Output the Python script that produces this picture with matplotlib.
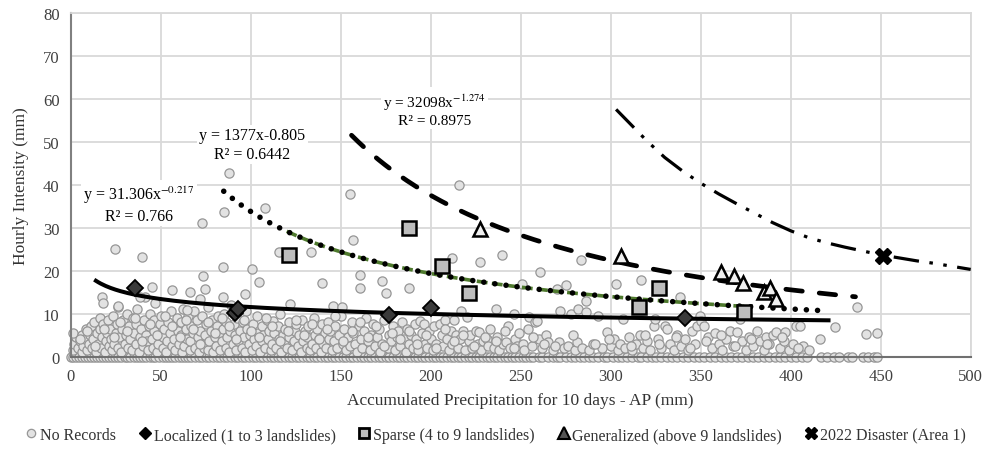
import numpy as np
import matplotlib.pyplot as plt
from matplotlib.lines import Line2D

plt.rcParams['font.family'] = ['Liberation Serif', 'DejaVu Serif']
plt.rcParams['mathtext.fontset'] = 'stix'

# ---- No Records (gray circles) ----
# points sitting on the x axis (intensity = 0)
nr_zero_x = [0, 1.5, 3, 4.5, 6, 8, 9.5, 11, 13, 14.5, 16, 18, 19.5, 21, 23, 24.5, 26, 28,
             30, 31.5, 33, 35, 37, 38.5, 40, 42, 44, 45.5, 47, 49, 51, 53, 54.5, 56, 58,
             60, 62, 63.5, 65, 67, 69, 71, 73, 75, 77, 79, 81, 83, 85, 87, 89, 91, 93,
             95, 97, 99, 101, 103, 105, 107, 109, 111, 113, 115, 117, 119, 121, 123, 125,
             127, 129, 131, 133, 135, 137, 139, 141, 143, 145, 147, 149, 151, 153, 155,
             157, 159, 161, 163, 165, 167, 169, 171, 173, 175, 177, 179, 181, 183, 185,
             187, 189, 191, 193, 195, 197, 199, 201, 203, 205, 207, 209, 211, 213, 215,
             217, 219, 221, 223, 225, 227, 229, 231, 233, 235, 237, 239, 241, 243, 245,
             247, 249, 251, 253, 255, 257, 260, 262, 265, 268, 270, 272, 275, 278, 280,
             283, 285, 288, 290, 293, 296, 298, 301, 304, 306, 309, 312, 315, 317, 320,
             323, 325, 328, 331, 334, 337, 340, 343, 346, 349, 352, 355, 358, 361, 364,
             367, 370, 373, 376, 379, 382, 385, 388, 391, 394, 397, 400, 403, 406, 409,
             417, 420, 424, 427, 432, 434, 440, 443, 446, 448]

# points above the axis
nr_x = [1, 2, 3, 1.5, 4, 5, 6, 6.5, 7, 8, 8.5, 9, 10, 10.5, 11, 12, 12.5, 13, 14, 14.5,
        15, 16, 16.5, 17, 17.5, 18, 19, 19.5, 20, 20.5,
        21, 22, 22.5, 23, 23.5, 24, 25, 25.5, 26, 26.5, 27, 28, 28.5, 29, 30, 30.5, 31,
        32, 32.5, 33, 34, 34.5, 35, 36, 36.5, 37, 38, 38.5, 39, 40, 40.5, 41, 42, 42.5,
        43, 43.5, 44, 45, 45.5, 46, 46.5, 47, 48, 48.5, 49, 49.5,
        50, 51, 51.5, 52, 53, 53.5, 54, 55, 55.5, 56, 57, 57.5, 58, 59, 59.5, 60, 61,
        61.5, 62, 62.5, 63, 64, 64.5, 65, 66, 66.5, 67, 68, 68.5, 69, 70, 70.5, 71, 72,
        72.5, 73, 74, 74.5, 75, 76, 76.5, 77, 78, 78.5, 79, 80, 80.5, 81, 82, 82.5, 83,
        84, 84.5, 85, 86, 86.5, 87, 88, 88.5, 89, 90, 90.5, 91, 92, 92.5, 93, 94, 95,
        95.5, 96, 97, 97.5, 98, 99, 99.5,
        100.5, 101, 102, 103, 103.5, 104, 105, 106, 106.5, 107, 108, 109, 109.5, 110,
        111, 112, 112.5, 113, 114, 115, 115.5, 116, 117, 118, 118.5, 119, 120, 121,
        121.5, 122, 123, 124, 124.5, 125, 126, 127, 128, 128.5, 129, 130, 131, 131.5,
        132, 133, 134, 135, 135.5, 136, 137, 138, 139, 139.5, 140, 141, 142, 143, 143.5,
        144, 145, 145.5, 146, 147, 148, 149, 150, 150.5, 151, 152, 153, 154, 155, 156,
        157, 158, 159, 160, 161, 162, 163, 164, 165, 166, 167, 168, 169, 170, 171, 172,
        173, 174,
        176, 177, 178, 179, 180, 181, 182, 183, 184, 185, 186, 187, 188, 189, 190, 191,
        192, 193, 194, 195, 196, 197, 198, 199, 200, 201, 202, 203, 205, 206, 207, 208,
        209, 210, 211, 212, 213, 214, 215, 216, 217, 218, 219, 220, 221, 222, 223, 225,
        226, 227, 228, 229, 231, 232, 233, 235, 236, 237, 238, 240, 242, 243, 244, 246,
        247, 248, 249,
        251, 252, 254, 254.5, 256, 258, 259, 260, 262, 264, 265, 268, 271, 272, 274, 276,
        278, 280, 281, 282, 284, 286, 288, 290, 293, 295, 297.8, 300, 302, 304, 305, 307,
        308, 310, 312, 314, 316, 318, 320,
        322, 324, 324.6, 326, 328, 330, 331.5, 333, 335, 337, 339, 341, 343, 345, 347,
        348, 349.6, 350, 352, 354, 356, 358, 360, 362, 364, 366, 368, 370, 371.8, 373,
        375, 377, 379, 381, 383, 385, 386, 388, 390, 392, 394, 396, 397, 399, 401, 403,
        405, 407, 410, 416, 424.6, 442, 447.8,
        # extra fill of the dense band
        5, 9, 13.5, 18.5, 24, 27.5, 31.5, 35.5, 39.5, 44, 48, 52.5, 56.5, 60.5, 64, 68,
        72, 76, 80, 84, 88, 92, 96, 100, 104.5, 108.5, 112, 116.5, 120.5, 125, 129.5,
        134, 138, 142.5, 147, 151.5, 156, 160.5, 165, 169.5, 174, 178.5, 183, 188, 192.5,
        197.5, 203, 208, 213, 218, 224, 230, 236, 241, 246, 257, 263, 269, 279, 291, 299,
        311, 319, 327, 336, 344, 353, 361, 369, 378, 387, 395, 404,
        # scattered points above the band
        88.1, 155.4, 215.6, 108, 85, 73.2, 156.8, 24.6, 39.4, 115.8, 133.7, 211.7, 227.4,
        239.6, 283.4, 84.8, 100.6, 160.7, 260.7, 104.8, 73.3, 172.8, 139.4, 250.5, 275,
        302.7, 317.1, 160.7, 188.1, 175.2, 270, 286, 338.6, 436.6, 17.2, 17.8, 45, 56.1,
        66.3, 74.6, 71.8, 84.8, 96.8, 26.4, 38.5, 64.4]
nr_y = [1.5, 3, 4.5, 5.5, 2, 3.5, 1, 5, 2.5, 4, 6.5, 1.5, 3, 5, 7, 2, 4, 8, 1, 5.5,
        3, 6.5, 9, 2, 4.5, 7.5, 1, 3.5, 5.5, 8.5,
        2.5, 6.5, 4, 1.5, 9.5, 3, 5.5, 7.5, 2, 11.5, 4.5, 1, 6.5, 8.5, 3, 5, 10,
        2, 7, 4, 1.5, 9, 5.5, 3, 7.5, 11, 1, 4.5, 6.5, 2.5, 8.5, 13.8, 5, 3.5,
        1.5, 7, 10, 4, 2, 6, 8.5, 12.5, 1, 3, 5, 7.5,
        9.5, 2, 4.5, 6.5, 1, 3.5, 8, 5.5, 10.5, 2.5, 7, 4, 1.5, 9, 6, 3, 5,
        8, 1, 11, 2.5, 6.5, 4, 9.5, 1.5, 3.5, 7, 5.5, 10.5, 2, 8.5, 4.5, 1, 6,
        3, 9.5, 2, 5, 7.5, 1.5, 11.5, 3.5, 6, 8.5, 1, 4.5, 2.5, 7, 9.5, 5.5, 1.5,
        3.5, 6.5, 10, 2, 8, 4.5, 1, 6, 12, 3, 7.5, 5, 1.5, 9, 3.5, 6, 2,
        8, 4.5, 1, 10.5, 6.5, 3, 5,
        1.5, 7.5, 4, 2.5, 9.5, 5.5, 1, 3.5, 7, 5, 2, 8.5, 4, 6,
        1.5, 3, 8.3, 5.5, 2, 7, 4, 9.9, 1, 5, 3, 6.5, 2, 4.5,
        8, 12.2, 1.5, 3.5, 6, 7.5, 2.5, 5, 1, 8.5, 3.5, 6, 2, 4.5,
        7, 1.5, 3, 9, 5, 2, 6.5, 4, 1, 7.5, 3, 5.5, 2, 8, 4,
        6, 1.5, 11.8, 3.5, 7, 2, 5, 9.5, 11.5, 3, 6.5, 1.5, 4.5, 2.5, 8,
        5.5, 3, 1, 7, 4, 2, 6, 9, 3.5, 1.5, 5, 7.5, 2.5, 4.5, 6.5, 1,
        3, 8.5,
        2, 5, 3.5, 7, 1.5, 4.5, 6, 2.5, 8, 4, 1, 6.5, 3, 5, 2, 7.5,
        4, 1.5, 8.3, 5.5, 7.6, 3, 2, 6, 4, 1.5, 7, 3, 7.6, 5, 2.5, 8.5,
        4, 1.5, 6, 3, 8.5, 5, 2, 4, 10.7, 6, 1.5, 9.1, 3.5, 5, 2, 6,
        3, 5.6, 1.5, 3.5, 4, 2.5, 6.5, 2, 11, 4.5, 1.5, 3, 3.3, 7.2, 2, 10,
        4, 2.5, 5.5,
        3, 1.5, 6.4, 9.1, 2.5, 8, 8.3, 4.1, 2, 5, 3.3, 1.5, 3.3, 10.7, 2, 2.5,
        9.9, 1.5, 3.3, 11, 2, 10.3, 1.5, 3, 9.5, 2, 5.6, 2.5, 4, 1.5, 3, 8.8,
        2, 4.5, 1.5, 3, 5, 2, 3.5,
        1.5, 7.2, 8.7, 4, 2, 7.2, 6.4, 3, 1.5, 5, 2.5, 4, 1.5, 6, 3,
        7.2, 9.5, 8.3, 7.1, 4.5, 2, 5.5, 3, 1.5, 4, 6, 2.5, 5.6, 8.7, 3.5,
        1.5, 4.5, 2.5, 6, 3.5, 1.5, 4.5, 3, 5, 5.7, 2, 3.5, 5.7, 1.5, 3, 7.2,
        7.2, 2.5, 1.5, 4.1, 6.8, 5.2, 5.5,
        4, 6, 2.5, 6.5, 4.5, 8, 6, 9, 3.5, 7.5, 5, 9.5, 7, 4.5, 8.5, 6.5,
        3, 8, 5.5, 9, 7, 4, 8.5, 6, 4.5, 9, 7, 3.5, 6, 8.5, 5,
        7.5, 4, 6.5, 9.5, 3.5, 6, 8, 4.5, 7, 2.5, 5.5, 4, 6, 3, 5,
        2, 6.5, 3.5, 5, 2.5, 4.5, 3.5, 6, 2, 4.5, 3, 2.5, 5, 3, 4,
        2.5, 5, 3, 4.5, 2, 3.5, 5, 2.5, 4, 3, 4.5, 2,
        42.8, 37.8, 40, 34.7, 33.6, 31.1, 27.2, 25.1, 23.3, 24.3, 24.4, 22.9, 22,
        23.7, 22.6, 20.8, 20.4, 19, 19.6, 17.4, 18.7, 17.7, 17.1, 16.9, 16.7,
        17, 17.8, 15.9, 15.9, 14.8, 15.7, 13, 13.8, 11.6, 13.8, 12.5, 16.1, 15.6,
        15, 15.7, 13.4, 13.8, 14.6, 11.8, 13.8, 10.9]

# ---- landslide events ----
loc_x = [35.5, 91.5, 93, 177, 200, 341]
loc_y = [16, 10.2, 11, 9.7, 11.2, 9]
sparse_x = [121.5, 188, 206.5, 221.5, 315.5, 327, 374]
sparse_y = [23.6, 30, 21, 14.7, 11.6, 16, 10.3]
gen_x = [227.5, 305.5, 361.5, 368.5, 373.5, 385, 388.5, 392]
gen_y = [29.8, 23.4, 19.8, 18.7, 17.1, 15, 16, 13.4]
dis_x = [451.5]
dis_y = [23.5]

# ---- fitted curves (coefficients printed on the chart) ----
trend_a = [31.306, 1377, 32098]
trend_b = [-0.217, -0.805, -1.274]
trend_from = [14, 85, 156]
trend_to = [421, 420, 436]
sparse_fit_range = [120, 376]

# curve through the 2022 disaster
dis_curve_x = [303, 310, 320, 330, 340, 350, 360, 370, 380, 390, 400, 410, 420, 430,
               440, 450, 460, 470, 480, 490, 500]
dis_curve_y = [57.6, 54.6, 50.3, 46.4, 43.2, 40.4, 37.9, 35.6, 33.4, 31.2, 29.3, 27.7,
               26.5, 25.5, 24.6, 23.7, 23.0, 22.3, 21.7, 21.0, 20.3]

labels = ['No Records', 'Localized (1 to 3 landslides)', 'Sparse (4 to 9 landslides)',
          'Generalized (above 9 landslides)', '2022 Disaster (Area 1)']

fig = plt.figure(figsize=(9.89, 4.6), dpi=100)
ax = fig.add_axes([0.0715, 0.2228, 0.91, 0.7461])

ax.scatter(nr_zero_x + nr_x, [0] * len(nr_zero_x) + nr_y, s=44, facecolor='#e2e2e2',
           edgecolor='#969696', linewidths=0.9, zorder=2, clip_on=False)

xs = [np.linspace(trend_from[i], trend_to[i], 300) for i in range(3)]
ys = [trend_a[i] * xs[i] ** trend_b[i] for i in range(3)]

ax.plot(xs[0], ys[0], color='black', lw=2.9, zorder=4)

xg = np.linspace(sparse_fit_range[0], sparse_fit_range[1], 200)
ax.plot(xg, trend_a[1] * xg ** trend_b[1], color='#4f7a2e', lw=2.6,
        linestyle=(0, (3, 1.2)), zorder=3)
ax.plot(xs[1], ys[1], color='black', lw=4, linestyle=(0, (0.01, 2.0)),
        dash_capstyle='round', zorder=4)
ax.plot(xs[2], ys[2], color='black', lw=3.4, linestyle=(0, (3.5, 3.6)),
        dash_capstyle='round', zorder=4)
ax.plot(dis_curve_x, dis_curve_y, color='black', lw=2.3,
        linestyle=(0, (8, 3.3, 1.1, 3.3, 1.1, 3.3)), zorder=4)

ax.plot(loc_x, loc_y, 'D', ms=8.5, mfc='#3a3a3a', mec='black', mew=1.3, zorder=5)
ax.plot(sparse_x, sparse_y, 's', ms=9.5, mfc='#bdbdbd', mec='black', mew=1.8, zorder=5)
ax.plot(gen_x, gen_y, '^', ms=10, mfc='#f0f0f0', mec='black', mew=1.8, zorder=5)
ax.plot(dis_x, dis_y, 'X', ms=12, mfc='black', mec='black', zorder=6)

bbox = dict(facecolor='white', edgecolor='none', pad=1.5)
ax.text(38, 35.5, 'y = 31.306x$^{-0.217}$\nR² = 0.766', ha='center', va='center',
        fontsize=11.5, linespacing=1.25, bbox=bbox, zorder=7)
ax.text(101, 49.4, 'y = 1377x-0.805\nR² = 0.6442', ha='center', va='center',
        fontsize=11.5, linespacing=1.25, bbox=bbox, zorder=7)
ax.text(202, 57.6, 'y = 32098x$^{-1.274}$\nR² = 0.8975', ha='center', va='center',
        fontsize=11, linespacing=1.25, bbox=bbox, zorder=7)

ax.set_xlim(0, 500)
ax.set_ylim(0, 80)
ax.set_xticks(range(0, 501, 50))
ax.set_yticks(range(0, 81, 10))
ax.grid(color='#d9d9d9', lw=1.3)
ax.set_axisbelow(True)
ax.tick_params(length=0, labelsize=12, labelcolor='#404040', pad=8)
for s in ['top', 'right']:
    ax.spines[s].set_color('#d9d9d9')
    ax.spines[s].set_linewidth(1.3)
ax.spines['left'].set_color('#808080')
ax.spines['left'].set_linewidth(1.5)
ax.spines['bottom'].set_color('#707070')
ax.spines['bottom'].set_linewidth(1.5)

ax.set_xlabel('Accumulated Precipitation for 10 days - AP (mm)', fontsize=12.5,
              color='#333333', labelpad=6)
ax.set_ylabel('Hourly Intensity (mm)', fontsize=12.5, color='#333333', labelpad=10)

handles = [
    Line2D([], [], ls='', marker='o', ms=6, mfc='#e2e2e2', mec='#969696', mew=0.9),
    Line2D([], [], ls='', marker='D', ms=6, mfc='black', mec='black'),
    Line2D([], [], ls='', marker='s', ms=7, mfc='#bdbdbd', mec='black', mew=2),
    Line2D([], [], ls='', marker='^', ms=8, mfc='#555555', mec='black', mew=1.5),
    Line2D([], [], ls='', marker='X', ms=9, mfc='black', mec='black'),
]
fig.legend(handles, labels, loc='center', bbox_to_anchor=(0.5, 0.052), ncol=5,
           frameon=False, fontsize=11.5, handletextpad=0.05, columnspacing=1.3,
           handlelength=1.0, labelcolor='#333333')

fig.savefig('out.png', dpi=100)
